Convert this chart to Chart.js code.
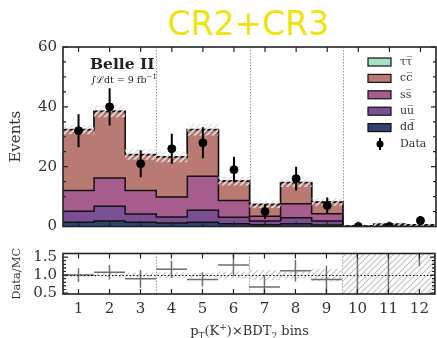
<!DOCTYPE html>
<html>
<head>
<meta charset="utf-8">
<title>CR2+CR3</title>
<style>
  body { margin: 0; background: #fff; }
  #wrap { position: relative; width: 437px; height: 338px; overflow: hidden; font-family: "DejaVu Serif", serif; color: #222; }
  canvas { position: absolute; left: 0; }
  #title { position: absolute; left: 0; top: 4px; width: 497px; text-align: center; font-family: "DejaVu Sans", sans-serif; font-size: 33px; line-height: 40px; color: #f0e40c; }
  #belle { position: absolute; left: 90px; top: 56px; font-size: 15.5px; line-height: 16px; font-weight: bold; }
  #lumi { position: absolute; left: 91px; top: 72px; font-size: 9.5px; line-height: 11px; }
  #xtitle { position: absolute; left: 0; top: 318px; width: 499px; text-align: center; font-size: 13px; line-height: 18px; color: #333; }
</style>
</head>
<body>
<script src="https://cdn.jsdelivr.net/npm/chart.js@4.4.1/dist/chart.umd.min.js"></script>
<div id="wrap">
  <div id="title">CR2+CR3</div>
  <canvas id="mainChart" width="437" height="240" style="top:0"></canvas>
  <canvas id="ratioChart" width="437" height="98" style="top:240px"></canvas>
  <div id="belle">Belle II</div>
  <div id="lumi">∫ℒdt = 9 fb<sup style="font-size:7px">−1</sup></div>
  <div id="xtitle">p<sub style="font-size:9px">T</sub>(K<sup style="font-size:9px">+</sup>)×BDT<sub style="font-size:9px">2</sub> bins</div>
</div>
<script>
  // bins of pT(K+) x BDT2
  var bins = [1, 2, 3, 4, 5, 6, 7, 8, 9, 10, 11, 12];
  var binLabels = ['1', '2', '3', '4', '5', '6', '7', '8', '9', '10', '11', '12'];

  // MC components (events per bin, not stacked)
  var ddEvents     = [1.4, 1.8, 1.4, 1.2, 1.4, 0.9, 0.6, 0.9, 0.5, 0.0, 0.05, 0.05];
  var uuEvents     = [3.7, 5.0, 2.8, 2.0, 4.0, 2.2, 1.2, 2.0, 1.3, 0.0, 0.1, 0.05];
  var ssEvents     = [6.9, 9.4, 7.8, 6.7, 11.4, 5.6, 1.6, 4.7, 2.5, 0.05, 0.2, 0.15];
  var ccEvents     = [20.3, 22.2, 12.0, 13.3, 15.5, 6.4, 3.9, 7.0, 3.8, 0.05, 0.4, 0.3];
  var tautauEvents = [0.1, 0.1, 0.1, 0.1, 0.1, 0.1, 0.1, 0.1, 0.1, 0.0, 0.0, 0.0];
  var mcErr        = [1.6, 2.0, 1.8, 1.8, 2.0, 1.5, 1.2, 1.5, 1.3, 0.3, 0.6, 0.4];

  // data
  var dataEvents = [32, 40, 21, 26, 28, 19, 5, 16, 7, 0, 0, 2];
  var dataErr    = [5.5, 6.2, 4.5, 5.0, 5.2, 4.3, 2.4, 4.0, 2.7, 0, 0, 1.4];

  // Data/MC panel
  var ratioVals  = [1.0, 1.08, 0.9, 1.16, 0.88, 1.28, 0.67, 1.12, 0.88, 0, 0, 3.3];
  var ratioErrLo = [0.19, 0.2, 0.25, 0.24, 0.2, 0.3, 0.33, 0.3, 0.38, 0, 0, 2.05];
  var ratioErrHi = [0.19, 0.2, 0.25, 0.24, 0.2, 0.3, 0.33, 0.3, 0.38, 20, 20, 2.0];
  var ratioBand  = [0.05, 0.05, 0.07, 0.08, 0.06, 0.1, 0.14, 0.1, 0.17, 5, 5, 5];

  var regionEdges = [3.5, 6.5, 9.5];

  Chart.defaults.font.family = '"DejaVu Serif", serif';
  Chart.defaults.color = '#333';

  function stackOn(base, add) {
    return base.map(function(v, i) { return v + add[i]; });
  }

  // histogram outline: left edge of every bin, plus the right edge of the last
  function steps(vals) {
    var pts = vals.map(function(v, i) { return {x: bins[i] - 0.5, y: v}; });
    pts.push({x: bins[bins.length - 1] + 0.5, y: vals[vals.length - 1]});
    return pts;
  }

  function makeHatch(color, size, width) {
    var c = document.createElement('canvas');
    c.width = size; c.height = size;
    var g = c.getContext('2d');
    g.strokeStyle = color;
    g.lineWidth = width;
    g.beginPath();
    g.moveTo(0, size); g.lineTo(size, 0);
    g.moveTo(-size / 2, size / 2); g.lineTo(size / 2, -size / 2);
    g.moveTo(size / 2, size * 1.5); g.lineTo(size * 1.5, size / 2);
    g.stroke();
    return g.createPattern(c, 'repeat');
  }

  var ddTop = ddEvents.slice();
  var uuTop = stackOn(ddTop, uuEvents);
  var ssTop = stackOn(uuTop, ssEvents);
  var ccTop = stackOn(ssTop, ccEvents);
  var totalMC = stackOn(ccTop, tautauEvents);

  function component(label, vals, color, fill, order, rank) {
    return {
      label: label, data: steps(vals), stepped: true,
      borderColor: '#111', borderWidth: 1.5, backgroundColor: color,
      fill: fill, pointRadius: 0, order: order, legendRank: rank
    };
  }

  var framePlugin = {
    id: 'frame',
    beforeDatasetsDraw: function(chart) {
      var ctx = chart.ctx, a = chart.chartArea, xs = chart.scales.x;
      ctx.save();
      ctx.strokeStyle = '#999';
      ctx.lineWidth = 1;
      ctx.setLineDash([1.5, 1.5]);
      regionEdges.forEach(function(e) {
        var x = Math.round(xs.getPixelForValue(e)) + 0.5;
        ctx.beginPath(); ctx.moveTo(x, a.top); ctx.lineTo(x, a.bottom); ctx.stroke();
      });
      ctx.restore();
    },
    afterDraw: function(chart, args, opts) {
      var ctx = chart.ctx, a = chart.chartArea, xs = chart.scales.x, ys = chart.scales.y;
      ctx.save();
      if (opts.refLine !== undefined) {
        var yr = Math.round(ys.getPixelForValue(opts.refLine)) + 0.5;
        ctx.strokeStyle = '#111';
        ctx.lineWidth = 1.2;
        ctx.setLineDash([1.5, 2]);
        ctx.beginPath(); ctx.moveTo(a.left, yr); ctx.lineTo(a.right, yr); ctx.stroke();
        ctx.setLineDash([]);
      }
      ctx.strokeStyle = '#222';
      ctx.lineWidth = 1.2;
      ctx.beginPath();
      xs.ticks.forEach(function(t) {
        var x = xs.getPixelForValue(t.value);
        ctx.moveTo(x, a.top); ctx.lineTo(x, a.top + 5);
        ctx.moveTo(x, a.bottom); ctx.lineTo(x, a.bottom - 5);
      });
      ys.ticks.forEach(function(t) {
        var y = ys.getPixelForValue(t.value);
        ctx.moveTo(a.left, y); ctx.lineTo(a.left + 5, y);
        ctx.moveTo(a.right, y); ctx.lineTo(a.right - 5, y);
      });
      var n = Math.round((ys.max - ys.min) / opts.minorStep);
      for (var i = 0; i <= n + 1; i++) {
        var v = Math.ceil(ys.min / opts.minorStep) * opts.minorStep + i * opts.minorStep;
        if (v > ys.max + 1e-9) break;
        var y = ys.getPixelForValue(v);
        ctx.moveTo(a.left, y); ctx.lineTo(a.left + 3, y);
        ctx.moveTo(a.right, y); ctx.lineTo(a.right - 3, y);
      }
      ctx.stroke();
      ctx.lineWidth = 1.6;
      ctx.strokeRect(a.left, a.top, a.right - a.left, a.bottom - a.top);
      ctx.restore();
    }
  };

  var errorBarPlugin = {
    id: 'errorBars',
    afterDatasetsDraw: function(chart) {
      var ctx = chart.ctx, a = chart.chartArea, xs = chart.scales.x, ys = chart.scales.y;
      ctx.save();
      ctx.beginPath();
      ctx.rect(a.left, a.top, a.right - a.left, a.bottom - a.top);
      ctx.clip();
      chart.data.datasets.forEach(function(ds) {
        if (!ds.errLo) return;
        ctx.strokeStyle = ds.errColor;
        ctx.lineWidth = ds.errWidth;
        ds.data.forEach(function(p, i) {
          var x = xs.getPixelForValue(p.x);
          var y = ys.getPixelForValue(p.y);
          ctx.beginPath();
          if (ds.errLo[i] + ds.errHi[i] > 0) {
            ctx.moveTo(x, ys.getPixelForValue(p.y - ds.errLo[i]));
            ctx.lineTo(x, ys.getPixelForValue(p.y + ds.errHi[i]));
          }
          if (ds.binBar) {
            ctx.moveTo(xs.getPixelForValue(p.x - 0.5), y);
            ctx.lineTo(xs.getPixelForValue(p.x + 0.5), y);
          }
          ctx.stroke();
        });
      });
      ctx.restore();
    }
  };

  var legendPlugin = {
    id: 'boxLegend',
    afterDraw: function(chart, args, opts) {
      if (!opts.top) return;
      var ctx = chart.ctx;
      var items = chart.data.datasets.filter(function(d) { return d.legendRank; })
        .sort(function(p, q) { return p.legendRank - q.legendRank; });
      ctx.save();
      ctx.font = '11px "DejaVu Serif"';
      ctx.textBaseline = 'middle';
      items.forEach(function(ds, i) {
        var y = opts.top + i * opts.rowHeight;
        if (ds.showLine === false) {
          ctx.strokeStyle = '#000'; ctx.lineWidth = 2;
          ctx.beginPath(); ctx.moveTo(opts.left + 12, y - 6); ctx.lineTo(opts.left + 12, y + 6); ctx.stroke();
          ctx.fillStyle = '#000';
          ctx.beginPath(); ctx.arc(opts.left + 12, y, 3.5, 0, Math.PI * 2); ctx.fill();
        } else {
          ctx.fillStyle = ds.backgroundColor;
          ctx.fillRect(opts.left, y - 4, 23, 8);
          ctx.strokeStyle = '#111'; ctx.lineWidth = 1.2;
          ctx.strokeRect(opts.left, y - 4, 23, 8);
        }
        ctx.fillStyle = '#333';
        ctx.fillText(ds.label, opts.left + 32, y);
      });
      ctx.restore();
    }
  };

  var bandHatch = makeHatch('rgba(228,228,228,0.95)', 6, 1.6);
  var ratioHatch = makeHatch('#c4c4c4', 6, 1.2);

  new Chart(document.getElementById('mainChart'), {
    type: 'line',
    data: {
      datasets: [
        component('dd\u0305', ddTop, '#33416f', 'origin', 6, 5),
        component('uu\u0305', uuTop, '#7a4f93', '-1', 7, 4),
        component('ss\u0305', ssTop, '#a65c8c', '-1', 8, 3),
        component('cc\u0305', ccTop, '#b97a73', '-1', 9, 2),
        component('\u03c4\u03c4\u0305', totalMC, '#a8e0c4', '-1', 10, 1),
        {
          data: steps(stackOn(totalMC, mcErr.map(function(e) { return -e; }))), stepped: true,
          borderColor: 'rgba(0,0,0,0)', borderWidth: 0, pointRadius: 0, fill: false, order: 5
        },
        {
          data: steps(stackOn(totalMC, mcErr)), stepped: true,
          borderColor: 'rgba(0,0,0,0)', borderWidth: 0, pointRadius: 0,
          fill: '-1', backgroundColor: bandHatch, order: 4
        },
        {
          label: 'Data', legendRank: 6, showLine: false, order: 1,
          data: bins.map(function(b, i) { return {x: b, y: dataEvents[i]}; }),
          pointRadius: 4, pointBackgroundColor: '#000', pointBorderColor: '#000', pointBorderWidth: 1,
          errLo: dataErr, errHi: dataErr, errColor: '#000', errWidth: 2
        }
      ]
    },
    options: {
      responsive: false, animation: false, events: [],
      layout: {autoPadding: false, padding: {top: 47, right: 1, left: 0, bottom: 0}},
      scales: {
        x: {
          type: 'linear', min: 0.5, max: 12.5,
          afterBuildTicks: function(s) { s.ticks = bins.map(function(v) { return {value: v}; }); },
          afterFit: function(s) { s.height = 13; },
          ticks: {display: false},
          grid: {display: false, drawTicks: false}, border: {display: false}
        },
        y: {
          min: 0, max: 60,
          afterFit: function(s) { s.width = 63; },
          ticks: {stepSize: 20, padding: 6, color: '#333', font: {size: 15, lineHeight: 1}},
          title: {display: true, text: 'Events', color: '#333', font: {size: 15}, padding: {top: 7, bottom: 0}},
          grid: {display: false, drawTicks: false}, border: {display: false}
        }
      },
      plugins: {
        legend: {display: false}, tooltip: {enabled: false},
        frame: {minorStep: 5},
        boxLegend: {top: 62, left: 368, rowHeight: 16.4}
      }
    },
    plugins: [framePlugin, errorBarPlugin, legendPlugin]
  });

  new Chart(document.getElementById('ratioChart'), {
    type: 'line',
    data: {
      datasets: [
        {
          data: steps(ratioBand.map(function(e) { return 1 - e; })), stepped: true,
          borderColor: 'rgba(0,0,0,0)', borderWidth: 0, pointRadius: 0, fill: false
        },
        {
          data: steps(ratioBand.map(function(e) { return 1 + e; })), stepped: true,
          borderColor: 'rgba(0,0,0,0)', borderWidth: 0, pointRadius: 0,
          fill: '-1', backgroundColor: ratioHatch
        },
        {
          showLine: false, pointRadius: 0,
          data: bins.map(function(b, i) { return {x: b, y: ratioVals[i]}; }),
          errLo: ratioErrLo, errHi: ratioErrHi, errColor: '#6e6e6e', errWidth: 1.5, binBar: true
        }
      ]
    },
    options: {
      responsive: false, animation: false, events: [],
      layout: {autoPadding: false, padding: {top: 8, right: 1, left: 0, bottom: 0}},
      scales: {
        x: {
          type: 'linear', min: 0.5, max: 12.5,
          afterBuildTicks: function(s) { s.ticks = bins.map(function(v) { return {value: v}; }); },
          afterFit: function(s) { s.height = 44; },
          ticks: {
            padding: 8, color: '#333', font: {size: 15, lineHeight: 1}, maxRotation: 0, autoSkip: false,
            callback: function(v) { return binLabels[bins.indexOf(v)]; }
          },
          grid: {display: false, drawTicks: false}, border: {display: false}
        },
        y: {
          min: 0.475, max: 1.6,
          afterBuildTicks: function(s) { s.ticks = [0.5, 1.0, 1.5].map(function(v) { return {value: v}; }); },
          afterFit: function(s) { s.width = 63; },
          ticks: {padding: 6, color: '#333', font: {size: 15, lineHeight: 1},
                  callback: function(v) { return v.toFixed(1); }},
          title: {display: true, text: 'Data/MC', color: '#333', font: {size: 11.5}, padding: {top: 10, bottom: 0}},
          grid: {display: false, drawTicks: false}, border: {display: false}
        }
      },
      plugins: {
        legend: {display: false}, tooltip: {enabled: false},
        frame: {minorStep: 0.1, refLine: 1}
      }
    },
    plugins: [framePlugin, errorBarPlugin]
  });
</script>
</body>
</html>
